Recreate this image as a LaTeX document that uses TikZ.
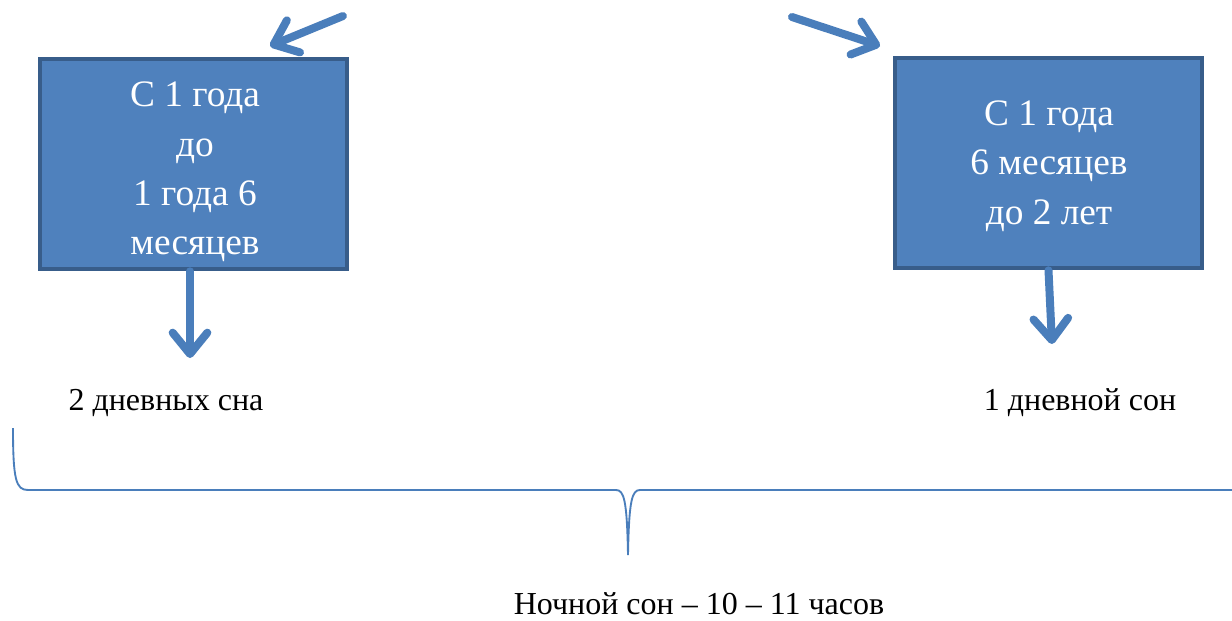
\documentclass[tikz,border=0pt]{standalone}
\usepackage{fontspec}
\setmainfont{LiberationSerif}[Extension=.ttf, UprightFont=*-Regular, BoldFont=*-Bold]
\usetikzlibrary{arrows.meta}
\definecolor{boxfill}{HTML}{4F81BD}
\definecolor{boxline}{HTML}{385D8A}
\definecolor{arrowc}{HTML}{4A7EBB}
\tikzset{
  agebox/.style={draw=boxline, fill=boxfill, line width=3pt,
    minimum width=230pt, minimum height=158pt, inner sep=0pt},
  boxtext/.style={text=white, align=center,
    font=\fontsize{28}{37}\selectfont, inner sep=0pt},
  bigarrow/.style={draw=arrowc, line width=6pt, line cap=round,
    -{Straight Barb[length=16pt, width=26pt, round]}},
  lbl/.style={font=\fontsize{24}{28}\selectfont, inner sep=0pt},
  bracel/.style={draw=arrowc, line width=1.4pt}
}
\begin{document}
\begin{tikzpicture}[x=0.75pt, y=-0.75pt]
\useasboundingbox (0,0) rectangle (1232,621);
\node[agebox] (L) at (193.5,164) {};
\node[boxtext] (Lt) at (195,172) {С 1 года\\до\\1 года 6\\месяцев};
\node[agebox] (R) at (1048.5,163) {};
\node[boxtext] (Rt) at (1049,166) {С 1 года\\6 месяцев\\до 2 лет};
\coordinate (t1) at (343,16);
\coordinate (h1) at (270,46);
\coordinate (t2) at (792,17);
\coordinate (h2) at (880,46);
\coordinate (lb) at (190,358);
\coordinate (rb) at (1052,344);
\draw[bigarrow] (t1) -- (h1);
\draw[bigarrow] (t2) -- (h2);
\draw[bigarrow] (L.south -| lb) -- (lb);
\draw[bigarrow] (R.south) -- (rb);
\node[lbl] (l2) at (166,403) {2 дневных сна};
\node[lbl] (l1) at (1080,403) {1 дневной сон};
\node[lbl] (night) at (699,604) {Ночной сон – 10 – 11 часов};
\draw[bracel] (13,428) .. controls (13,480) and (16,490) .. (28,490) -- (616,490)
  .. controls (624,490) and (627,500) .. (628,555)
  .. controls (629,500) and (632,490) .. (640,490) -- (1232,490);
\end{tikzpicture}
\end{document}
